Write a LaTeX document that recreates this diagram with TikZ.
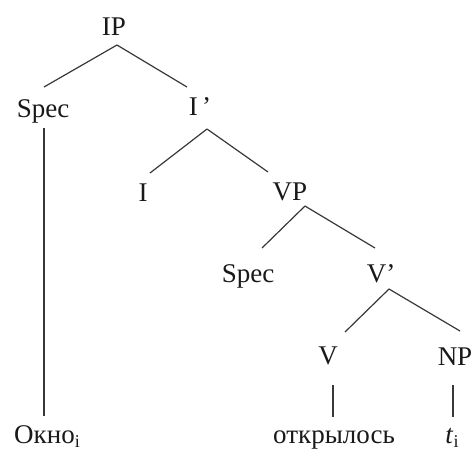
\documentclass[tikz,border=0pt]{standalone}
\usepackage{fontspec}
\setmainfont{Liberation Serif}
\newcommand{\subidx}[1]{\raisebox{-4pt}{\fontsize{18}{18}\selectfont #1}}
\begin{document}
\begin{tikzpicture}[x=1pt,y=-1pt,
  lbl/.style={anchor=base,inner sep=0pt,font=\fontsize{27}{30}\selectfont,text=black!90},
  branch/.style={draw=black!78,line width=1.2pt}]
\useasboundingbox (0,0) rectangle (473,450);

% categories
\node[lbl] (IP)    at (114,35)  {IP};
\node[lbl] (specA) at (43,117)  {Spec};
\node[lbl] (Ibar)  at (200,115) {I\,’};
\node[lbl] (I)     at (143,201) {I};
\node[lbl] (VP)    at (290,200) {VP};
\node[lbl] (specB) at (248,282) {Spec};
\node[lbl] (Vbar)  at (381,282) {V’};
\node[lbl] (V)     at (328,364) {V};
\node[lbl] (NP)    at (455,365) {NP};

% terminals
\node[lbl] (okno)  at (47,443)  {Окно\subidx{i}};
\node[lbl] (otkr)  at (334,443) {открылось};
\node[lbl] (trace) at (452,443) {\textit{t}\subidx{i}};

% branches
\draw[branch] ([xshift=3pt,yshift=-10pt]IP.base) -- ([xshift=1pt,yshift=30pt]specA.base);
\draw[branch] ([xshift=3pt,yshift=-10pt]IP.base) -- ([xshift=-13pt,yshift=28pt]Ibar.base);
\draw[branch] ([xshift=1pt,yshift=-11pt]specA.base) -- ([xshift=-3pt,yshift=27pt]okno.base);
\draw[branch] ([xshift=7pt,yshift=-14pt]Ibar.base) -- ([xshift=7pt,yshift=28pt]I.base);
\draw[branch] ([xshift=7pt,yshift=-14pt]Ibar.base) -- ([xshift=-22pt,yshift=28pt]VP.base);
\draw[branch] ([xshift=15pt,yshift=-6pt]VP.base) -- ([xshift=14pt,yshift=34pt]specB.base);
\draw[branch] ([xshift=15pt,yshift=-6pt]VP.base) -- ([xshift=-6pt,yshift=34pt]Vbar.base);
\draw[branch] ([xshift=8pt,yshift=-7pt]Vbar.base) -- ([xshift=17pt,yshift=32pt]V.base);
\draw[branch] ([xshift=8pt,yshift=-7pt]Vbar.base) -- ([xshift=5pt,yshift=34pt]NP.base);
\draw[branch] ([xshift=5pt,yshift=-21pt]V.base) -- ([xshift=-1pt,yshift=26pt]otkr.base);
\draw[branch] ([xshift=-2pt,yshift=-20pt]NP.base) -- ([xshift=1pt,yshift=26pt]trace.base);
\end{tikzpicture}
\end{document}
